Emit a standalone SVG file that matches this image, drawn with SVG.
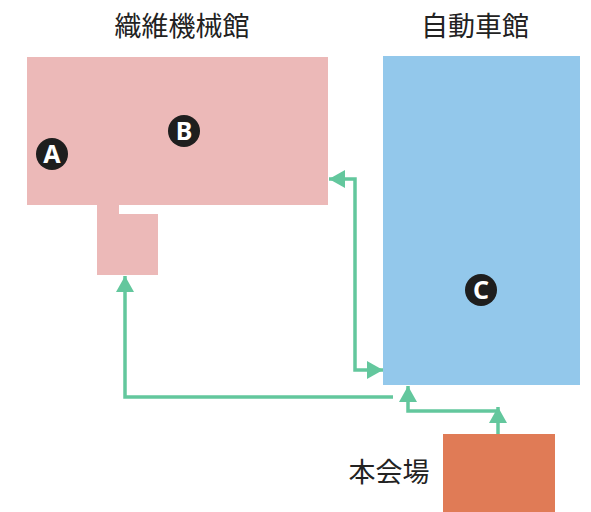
<svg xmlns="http://www.w3.org/2000/svg" width="591" height="512" viewBox="0 0 591 512">
<defs>
<style>
.lbl{font-family:"Noto Sans CJK JP","Noto Sans",sans-serif;font-size:27px;fill:#222;}
.badge circle{fill:#1e1e1e;}
.badge text{font-family:"Noto Sans","Liberation Sans",sans-serif;font-weight:bold;font-size:25px;fill:#fff;text-anchor:middle;}
.conn{fill:none;stroke:#63c79d;stroke-width:3.5;}
</style>
<marker id="ah" viewBox="0 0 10 10" refX="10" refY="5" markerWidth="16" markerHeight="18" markerUnits="userSpaceOnUse" orient="auto-start-reverse" preserveAspectRatio="none">
<path d="M0,0 L10,5 L0,10 Z" fill="#63c79d"/>
</marker>
</defs>
<rect width="591" height="512" fill="#fff"/>
<g id="textile">
<rect x="27" y="57" width="301" height="148" fill="#ecb9b8"/>
<rect x="97" y="214" width="61" height="61" fill="#ecb9b8"/>
<rect x="97" y="204" width="22" height="11" fill="#ecb9b8"/>
<text class="lbl" x="182" y="36" text-anchor="middle">織維機械館</text>
</g>
<g id="auto">
<rect x="383" y="56" width="197" height="329" fill="#93c8eb"/>
<text class="lbl" x="475" y="36" text-anchor="middle">自動車館</text>
</g>
<g id="main">
<rect x="443" y="434" width="112" height="78" fill="#e07b56"/>
<text class="lbl" x="389" y="482" text-anchor="middle">本会場</text>
</g>
<g id="badgeA" class="badge"><circle cx="52" cy="154" r="16"/><text x="52" y="163">A</text></g>
<g id="badgeB" class="badge"><circle cx="184" cy="131" r="16"/><text x="184" y="140">B</text></g>
<g id="badgeC" class="badge"><circle cx="481" cy="290" r="16"/><text x="481" y="299">C</text></g>
<g id="connectors">
<polyline class="conn" points="329,179 355,179 355,370 383,370" marker-start="url(#ah)" marker-end="url(#ah)"/>
<polyline class="conn" points="393,397 125,397 125,276" marker-end="url(#ah)"/>
<polyline class="conn" points="498,434 498,407" marker-end="url(#ah)"/>
<polyline class="conn" points="498,411 408,411 408,386" marker-end="url(#ah)"/>
</g>
</svg>
